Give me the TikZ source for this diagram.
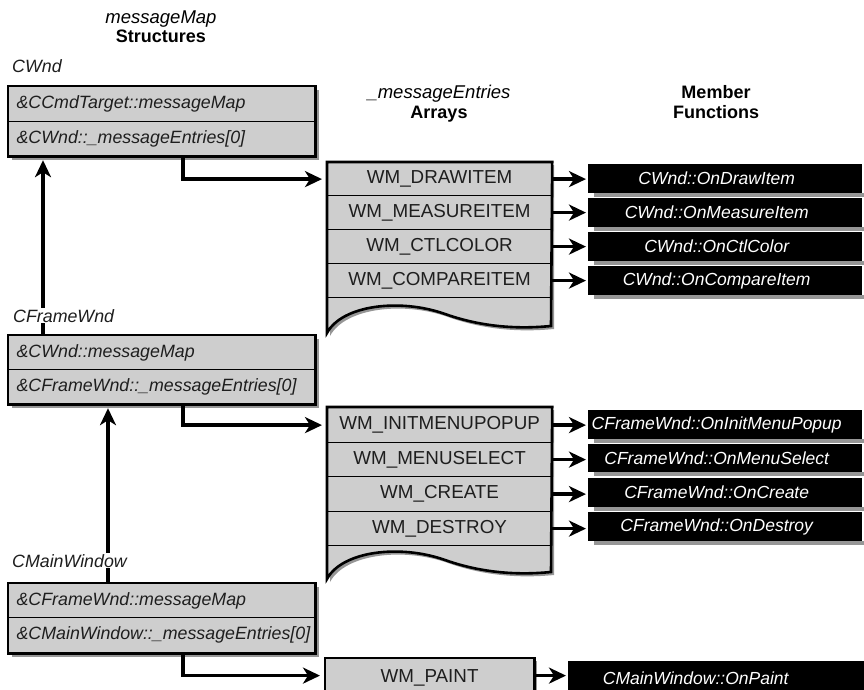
\documentclass[tikz,border=0pt]{standalone}
\usepackage{fontspec}
\setmainfont{Liberation Sans}
\usetikzlibrary{arrows.meta,backgrounds,calc}
\definecolor{boxgray}{RGB}{206,206,206}
\definecolor{shgray}{RGB}{150,150,150}
\definecolor{txtgray}{RGB}{30,30,30}
\begin{document}
\begin{tikzpicture}[x=1pt,y=-1pt,
  lrow/.style={draw, line width=1.2pt, fill=boxgray, anchor=north west, minimum width=305pt, text width=290pt, inner xsep=8pt, inner ysep=0pt, align=left, font=\fontsize{17.8}{19}\selectfont\itshape, text=txtgray},
  arow/.style={draw, line width=1.2pt, fill=boxgray, anchor=north west, minimum width=224pt, inner sep=0pt, font=\fontsize{18.8}{20}\selectfont, text=txtgray},
  mbox/.style={fill=black, text=white, anchor=north west, minimum width=274pt, inner sep=0pt, font=\fontsize{17.5}{19}\selectfont\itshape, execute at end node={\hspace*{17pt}}},
  lbl/.style={anchor=base west, inner sep=1pt, fill=white, font=\fontsize{17.8}{19}\selectfont\itshape, text=txtgray},
  hd/.style={anchor=base, inner sep=0pt},
  arr/.style={line width=3.5pt, -{Stealth[length=17pt,width=16pt,inset=5pt]}},
  outline/.style={line width=2.6pt},
  shadow/.style={fill=shgray}
]
\useasboundingbox (0,0) rectangle (864,690);
\clip (0,0) rectangle (864,690);

% headings
\node[hd, font=\fontsize{18.5}{19}\selectfont\itshape] (h1) at (161,24) {messageMap};
\node[hd, font=\fontsize{18}{19}\selectfont\bfseries] (h2) at (161,43) {Structures};
\node[hd, font=\fontsize{18.5}{19}\selectfont\itshape] (h3) at (439,99) {\_messageEntries};
\node[hd, font=\fontsize{18}{19}\selectfont\bfseries] (h4) at (439,119) {Arrays};
\node[hd, font=\fontsize{18}{19}\selectfont\bfseries] (h5) at (716,99) {Member};
\node[hd, font=\fontsize{18}{19}\selectfont\bfseries] (h6) at (716,119) {Functions};

% left structures
\node[lrow, minimum height=35pt] (cwA) at (8,86) {\&CCmdTarget::messageMap};
\node[lrow, minimum height=34pt] (cwB) at (8,121) {\&CWnd::\_messageEntries[0]};
\draw[outline] (cwA.north west) rectangle (cwB.south east);

\node[lrow, minimum height=34pt] (cfA) at (8,335) {\&CWnd::messageMap};
\node[lrow, minimum height=34pt] (cfB) at (8,369) {\&CFrameWnd::\_messageEntries[0]};
\draw[outline] (cfA.north west) rectangle (cfB.south east);

\node[lrow, minimum height=34pt] (cmA) at (8,583) {\&CFrameWnd::messageMap};
\node[lrow, minimum height=35pt] (cmB) at (8,617) {\&CMainWindow::\_messageEntries[0]};
\draw[outline] (cmA.north west) rectangle (cmB.south east);

% array 1
\fill[boxgray] (327,296) -- (327,333) .. controls (342,305) and (400,298) .. (445,314) .. controls (490,330) and (530,328) .. (551,326) -- (551,296) -- cycle;
\node[arow, minimum height=33pt] (a1) at (327,162) {WM\_DRAWITEM};
\node[arow, minimum height=34pt] (a2) at (327,195) {WM\_MEASUREITEM};
\node[arow, minimum height=34pt] (a3) at (327,229) {WM\_CTLCOLOR};
\node[arow, minimum height=34pt] (a4) at (327,263) {WM\_COMPAREITEM};
\draw[outline] (a1.north west) -- (327,333) .. controls (342,305) and (400,298) .. (445,314) .. controls (490,330) and (530,328) .. (551,326) -- (a1.north east) -- cycle;

% array 2
\fill[boxgray] (327,544) -- (327,579) .. controls (342,551) and (400,544) .. (445,560) .. controls (490,576) and (530,574) .. (551,572) -- (551,544) -- cycle;
\node[arow, minimum height=35pt] (b1) at (327,407) {WM\_INITMENUPOPUP};
\node[arow, minimum height=34pt] (b2) at (327,442) {WM\_MENUSELECT};
\node[arow, minimum height=35pt] (b3) at (327,476) {WM\_CREATE};
\node[arow, minimum height=34pt] (b4) at (327,511) {WM\_DESTROY};
\draw[outline] (b1.north west) -- (327,579) .. controls (342,551) and (400,544) .. (445,560) .. controls (490,576) and (530,574) .. (551,572) -- (b1.north east) -- cycle;

% array 3
\node[arow, minimum height=38pt, minimum width=208pt] (c1) at (325,658) {WM\_PAINT};
\draw[outline] (c1.south west) -- (c1.north west) -- (c1.north east) -- (c1.south east);

% member functions
\node[mbox, minimum height=29pt] (m1) at (588,164) {CWnd::OnDrawItem};
\node[mbox, minimum height=29pt] (m2) at (588,198) {CWnd::OnMeasureItem};
\node[mbox, minimum height=29pt] (m3) at (588,232) {CWnd::OnCtlColor};
\node[mbox, minimum height=29pt] (m4) at (588,266) {CWnd::OnCompareItem};
\node[mbox, minimum height=29pt] (n1) at (588,410) {CFrameWnd::OnInitMenuPopup};
\node[mbox, minimum height=28pt] (n2) at (588,444) {CFrameWnd::OnMenuSelect};
\node[mbox, minimum height=29pt] (n3) at (588,478) {CFrameWnd::OnCreate};
\node[mbox, minimum height=29pt] (n4) at (588,512) {CFrameWnd::OnDestroy};
\node[mbox, minimum height=34pt, minimum width=300pt, execute at end node={\hspace*{28pt}}] (p1) at (568,661) {CMainWindow::OnPaint};

% shadows
\begin{pgfonlayer}{background}
  \foreach \n in {cw,cf,cm}{
    \fill[shadow] ($(\n A.north west)+(4pt,-4pt)$) rectangle ($(\n B.south east)+(4pt,-4pt)$);
  }
  \fill[shadow, shift={(3pt,-3pt)}] (327,162) -- (327,333) .. controls (342,305) and (400,298) .. (445,314) .. controls (490,330) and (530,328) .. (551,326) -- (551,162) -- cycle;
  \fill[shadow, shift={(3pt,-3pt)}] (327,407) -- (327,579) .. controls (342,551) and (400,544) .. (445,560) .. controls (490,576) and (530,574) .. (551,572) -- (551,407) -- cycle;
  \fill[shadow] ($(c1.north east)+(3pt,-3pt)$) rectangle ($(c1.south east)+(0pt,-3pt)$);
  \foreach \n in {m1,m2,m3,m4,n1,n2,n3,n4}{
    \fill[shadow] ($(\n.south west)+(6pt,0pt)$) rectangle ($(\n.south east)+(4pt,-4pt)$);
  }
\end{pgfonlayer}

% connectors
\coordinate (u1) at (43,0);
\coordinate (u2) at (108,0);
\draw[arr, shorten >=4pt] (cfA.north -| u1) -- (cwB.south -| u1);
\draw[arr, shorten >=4pt] (cmA.north -| u2) -- (cfB.south -| u2);

\draw[arr, shorten >=5pt] ([xshift=21.5pt]cwB.south) |- (a1.west);
\draw[arr, shorten >=5pt] ([xshift=21.5pt]cfB.south) |- (b1.west);
\draw[arr, shorten >=5pt] ([xshift=21.5pt]cmB.south) |- ([yshift=2pt]c1.west);

\foreach \a/\m in {a1/m1,a2/m2,a3/m3,a4/m4,b1/n1,b2/n2,b3/n3,b4/n4}{
  \draw[arr, shorten >=2pt] (\a.east) -- (\a.east -| \m.west);
}
\draw[arr, shorten >=2pt] ([yshift=2pt]c1.east) -- ([yshift=2pt]c1.east -| p1.west);

% class labels (opaque, over the connectors)
\node[lbl] (l1) at (11,73) {CWnd};
\node[lbl] (l2) at (12,322) {CFrameWnd};
\node[lbl] (l3) at (11,567) {CMainWindow};
\end{tikzpicture}
\end{document}
